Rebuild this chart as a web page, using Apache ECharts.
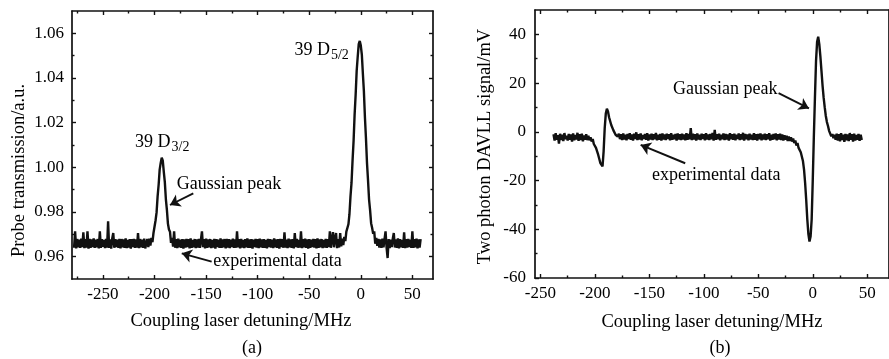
<!DOCTYPE html>
<html><head><meta charset="utf-8">
<script src="https://cdn.jsdelivr.net/npm/echarts@6/dist/echarts.min.js"></script>
<style>html,body{margin:0;padding:0;background:#fff}#c{width:889px;height:359px}</style>
</head><body><div id="c"></div>
<script>
// ---------- data ----------
// (a) probe transmission, one sample per MHz starting at leftStart
const leftStart = -278;
const leftTransmission = [
0.9640,0.9713,0.9637,0.9679,0.9642,0.9676,0.9639,0.9681,0.9643,0.9709,
0.9638,0.9678,0.9641,0.9713,0.9636,0.9680,0.9640,0.9677,0.9643,0.9682,
0.9639,0.9676,0.9642,0.9679,0.9637,0.9713,0.9640,0.9678,0.9644,0.9675,
0.9638,0.9680,0.9641,0.9758,0.9639,0.9677,0.9636,0.9681,0.9706,0.9640,
0.9678,0.9643,0.9676,0.9639,0.9680,0.9637,0.9679,0.9642,0.9677,0.9640,
0.9682,0.9638,0.9675,0.9641,0.9679,0.9636,0.9678,0.9643,0.9680,0.9639,
0.9677,0.9641,0.9706,0.9638,0.9679,0.9642,0.9676,0.9640,0.9681,0.9637,
0.9641,0.9679,0.9643,0.9681,0.9650,0.9684,0.9665,0.9706,0.9710,0.9762,
0.9798,0.9870,0.9922,0.9990,1.0020,1.0043,1.0030,0.9980,0.9934,0.9858,
0.9810,0.9748,0.9722,0.9712,0.9662,0.9684,0.9645,0.9713,0.9640,0.9678,
0.9638,0.9681,0.9642,0.9676,0.9639,0.9679,0.9636,0.9677,0.9641,0.9680,
0.9643,0.9678,0.9637,0.9682,0.9640,0.9675,0.9642,0.9679,0.9638,0.9677,
0.9641,0.9680,0.9639,0.9676,0.9713,0.9643,0.9678,0.9637,0.9681,0.9640,
0.9677,0.9642,0.9679,0.9638,0.9675,0.9641,0.9680,0.9636,0.9678,0.9643,
0.9676,0.9639,0.9682,0.9640,0.9677,0.9642,0.9679,0.9637,0.9680,0.9641,
0.9678,0.9638,0.9676,0.9643,0.9681,0.9639,0.9677,0.9640,0.9713,0.9642,
0.9679,0.9637,0.9680,0.9641,0.9675,0.9638,0.9678,0.9642,0.9682,0.9639,
0.9677,0.9640,0.9679,0.9636,0.9676,0.9643,0.9680,0.9641,0.9678,0.9638,
0.9681,0.9642,0.9677,0.9639,0.9679,0.9640,0.9675,0.9637,0.9680,0.9643,
0.9678,0.9641,0.9676,0.9638,0.9682,0.9642,0.9677,0.9639,0.9679,0.9636,
0.9680,0.9643,0.9678,0.9640,0.9709,0.9641,0.9676,0.9638,0.9681,0.9642,
0.9677,0.9639,0.9679,0.9637,0.9706,0.9643,0.9680,0.9640,0.9675,0.9641,
0.9713,0.9638,0.9678,0.9642,0.9681,0.9639,0.9677,0.9636,0.9679,0.9640,
0.9676,0.9643,0.9680,0.9641,0.9678,0.9637,0.9682,0.9640,0.9677,0.9642,
0.9679,0.9638,0.9675,0.9641,0.9680,0.9639,0.9678,0.9643,0.9713,0.9640,
0.9677,0.9710,0.9642,0.9681,0.9706,0.9638,0.9679,0.9641,0.9706,0.9646,
0.9681,0.9652,0.9688,0.9670,0.9712,0.9710,0.9745,0.9790,0.9870,0.9930,
1.0030,1.0118,1.0236,1.0325,1.0432,1.0495,1.0552,1.0566,1.0545,1.0505,
1.0420,1.0340,1.0224,1.0130,1.0020,0.9942,0.9856,0.9808,0.9750,0.9728,
0.9702,0.9713,0.9658,0.9684,0.9648,0.9680,0.9641,0.9677,0.9639,0.9681,
0.9642,0.9678,0.9713,0.9640,0.9594,0.9679,0.9638,0.9676,0.9643,0.9680,
0.9706,0.9641,0.9677,0.9639,0.9682,0.9637,0.9678,0.9642,0.9675,0.9640,
0.9709,0.9638,0.9679,0.9641,0.9680,0.9643,0.9676,0.9639,0.9713,0.9640,
0.9678,0.9642,0.9681,0.9637,0.9677,0.9641,0.9679
];
// (b) two photon DAVLL signal (mV), one sample per MHz starting at rightStart
const rightStart = -238;
const rightSignal = [
-1.0,-3.6,-0.6,-3.2,-1.4,-4.8,-0.8,-3.4,-1.2,-3.8,
-0.5,-3.0,-1.6,-3.6,-0.9,-3.3,-1.1,-4.0,-0.7,-3.5,
-1.3,-3.1,-0.4,-3.7,-1.0,-3.4,-0.8,-3.9,-1.5,-3.2,
-1.0,-3.4,-1.6,-3.5,-2.2,-4.0,-3.0,-5.0,-4.4,-6.6,
-7.0,-9.4,-10.0,-12.8,-13.5,-14.2,-8.0,1.5,7.5,9.5,
8.4,6.0,5.2,2.8,2.4,0.6,0.8,-1.2,-0.4,-2.0,
-0.8,-3.0,-1.0,-3.4,-0.7,-3.1,-1.2,-3.5,-0.9,-2.9,
-0.6,-3.3,-1.1,-3.6,-0.8,-3.0,-0.2,-3.4,-1.0,-3.2,
-0.7,-3.5,-1.3,-2.9,-0.9,-3.3,-0.6,-3.6,-1.1,-3.1,
-0.8,-3.4,-1.0,-3.0,-0.5,-3.5,-1.2,-3.2,-0.9,-3.6,
-0.7,-3.1,-1.1,-3.4,-0.8,-2.9,-1.0,-3.5,-0.6,-3.3,
-1.2,-3.0,-0.9,-3.6,-0.7,-3.2,-1.0,-3.4,-0.8,-3.1,
-1.1,-3.5,-0.6,-3.3,-0.9,-3.0,1.5,-3.4,-0.8,-3.2,
-1.0,-3.6,-0.7,-3.1,-1.2,-3.4,-0.8,-2.9,-1.0,-3.5,
-0.6,-3.2,-1.1,-3.4,-0.9,-3.0,-0.5,-3.6,0.8,-3.3,
-1.0,-3.1,-0.8,-3.5,-1.2,-3.0,-0.7,-3.4,-0.9,-3.2,
-1.1,-3.6,-0.6,-3.1,-1.0,-3.3,-0.8,-3.5,-1.2,-2.9,
-0.7,-3.4,-1.0,-3.2,-0.4,-3.6,-0.9,-3.0,-1.1,-3.5,
-0.8,-3.1,-1.2,-3.4,-0.6,-3.3,-1.0,-3.6,-0.9,-3.0,
-0.7,-3.5,-1.1,-3.2,-0.8,-3.4,-1.0,-3.1,-0.6,-3.6,
-1.2,-3.3,-0.9,-3.0,-0.7,-3.5,-1.0,-3.2,-0.8,-3.4,
-1.1,-3.6,-1.4,-3.2,-1.6,-3.8,-1.9,-3.7,-2.2,-4.0,
-2.8,-4.6,-3.6,-5.6,-4.6,-6.6,-6.2,-8.4,-9.2,-12.0,
-15.5,-21,-28,-36,-42,-45,-43,-36,-20,-2,
14,29,37,39,36,31,25,19,14,10,
6.5,4.0,2.4,0.4,-0.2,-1.8,-0.9,-2.6,-1.2,-3.3,
-0.8,-3.6,-1.0,-3.9,-0.6,-3.4,-1.2,-4.1,-0.9,-3.5,
-1.1,-3.8,-0.5,-3.3,-1.0,-4.0,-0.8,-3.6,-1.3,-3.2,
-0.9,-3.7,-1.2,-3.4
];
// axis ranges and ticks
const leftXRange = [-280, 70];
const leftYRange = [0.95, 1.07];
const leftXLabels = [-250, -200, -150, -100, -50, 0, 50];
const leftXMinor = [-275, -225, -175, -125, -75, -25, 25];
const leftYLabels = [0.96, 0.98, 1.00, 1.02, 1.04, 1.06];
const leftYMinor = [0.97, 0.99, 1.01, 1.03, 1.05];
const rightXRange = [-255, 70];
const rightYRange = [-60, 50];
const rightXLabels = [-250, -200, -150, -100, -50, 0, 50];
const rightXMinor = [-225, -175, -125, -75, -25, 25];
const rightYLabels = [-60, -40, -20, 0, 20, 40];
const rightYMinor = [-50, -30, -10, 10, 30];
// annotations in data coordinates
const leftAnnot = {
  d32: [-184.5, 1.0111], d52: [-29.9, 1.0526],
  gauss: [-178.5, 0.9925], exper: [-143.0, 0.9581],
  arrowGauss: [[-162.4, 0.98838], [-185.0, 0.98314]],
  arrowExper: [[-144.6, 0.95775], [-173.6, 0.96151]]
};
const rightAnnot = {
  gauss: [-32.3, 17.6], exper: [-147.5, -17.7],
  arrowGauss: [[-31.4, 15.9], [-3.5, 9.6]],
  arrowExper: [[-117.1, -12.9], [-158.0, -5.4]]
};

// ---------- chart ----------
const FONT = 'Liberation Serif';
const INK = '#111';
function toPairs(start, arr) { return arr.map((v, i) => [start + i, v]); }

function xAxes(grid, range, labels, minor, fmt) {
  const base = { type: 'value', gridIndex: grid, min: range[0], max: range[1], splitLine: { show: false } };
  const line = { show: true, onZero: false, lineStyle: { color: INK, width: 1.7 } };
  return [
    Object.assign({}, base, { position: 'bottom', axisLine: line,
      axisTick: { show: true, inside: true, length: 4, customValues: labels, lineStyle: { color: INK, width: 1.4 } },
      axisLabel: { show: true, customValues: labels, formatter: fmt, margin: 7, color: '#000', fontFamily: FONT, fontSize: 17 } }),
    Object.assign({}, base, { position: 'bottom', axisLine: { show: false, onZero: false },
      axisTick: { show: true, inside: true, length: 2.5, customValues: minor, lineStyle: { color: INK, width: 1.4 } },
      axisLabel: { show: false } }),
    Object.assign({}, base, { position: 'top', axisLine: line,
      axisTick: { show: true, inside: true, length: 4, customValues: labels, lineStyle: { color: INK, width: 1.4 } },
      axisLabel: { show: false } }),
    Object.assign({}, base, { position: 'top', axisLine: { show: false, onZero: false },
      axisTick: { show: true, inside: true, length: 2.5, customValues: minor, lineStyle: { color: INK, width: 1.4 } },
      axisLabel: { show: false } })
  ];
}
function yAxes(grid, range, labels, minor, fmt, margin, rightTicks) {
  const base = { type: 'value', gridIndex: grid, min: range[0], max: range[1], splitLine: { show: false } };
  const line = { show: true, onZero: false, lineStyle: { color: INK, width: 1.7 } };
  return [
    Object.assign({}, base, { position: 'left', axisLine: line,
      axisTick: { show: true, inside: true, length: 4, customValues: labels, lineStyle: { color: INK, width: 1.4 } },
      axisLabel: { show: true, customValues: labels, formatter: fmt, margin: margin, color: '#000', fontFamily: FONT, fontSize: 17 } }),
    Object.assign({}, base, { position: 'left', axisLine: { show: false, onZero: false },
      axisTick: { show: true, inside: true, length: 2.5, customValues: minor, lineStyle: { color: INK, width: 1.4 } },
      axisLabel: { show: false } }),
    Object.assign({}, base, { position: 'right', axisLine: line,
      axisTick: { show: rightTicks, inside: true, length: 4, customValues: labels, lineStyle: { color: INK, width: 1.4 } },
      axisLabel: { show: false } }),
    Object.assign({}, base, { position: 'right', axisLine: { show: false, onZero: false },
      axisTick: { show: rightTicks, inside: true, length: 2.5, customValues: minor, lineStyle: { color: INK, width: 1.4 } },
      axisLabel: { show: false } })
  ];
}
function arrowLine(pair) {
  return [{ coord: pair[0], symbol: 'none' }, { coord: pair[1], symbol: 'arrow', symbolSize: 10 }];
}
const intFmt = v => String(Math.round(v));
const twoFmt = v => v.toFixed(2);

const chart = echarts.init(document.getElementById('c'), null, { renderer: 'canvas' });
const option = {
  animation: false,
  backgroundColor: '#fff',
  grid: [
    { left: 72, right: 456, top: 11, bottom: 80 },
    { left: 535, right: -3.5, top: 10, bottom: 81 }
  ],
  xAxis: [].concat(
    xAxes(0, leftXRange, leftXLabels, leftXMinor, intFmt),
    xAxes(1, rightXRange, rightXLabels, rightXMinor, intFmt)),
  yAxis: [].concat(
    yAxes(0, leftYRange, leftYLabels, leftYMinor, twoFmt, 8, true),
    yAxes(1, rightYRange, rightYLabels, rightYMinor, intFmt, 9, false)),
  series: [
    { type: 'line', xAxisIndex: 0, yAxisIndex: 0, data: toPairs(leftStart, leftTransmission),
      showSymbol: false, lineStyle: { color: INK, width: 2.4 }, silent: true,
      markLine: { silent: true, label: { show: false }, lineStyle: { color: INK, width: 1.9, type: 'solid' },
        data: [arrowLine(leftAnnot.arrowGauss), arrowLine(leftAnnot.arrowExper)] } },
    { type: 'line', xAxisIndex: 4, yAxisIndex: 4, data: toPairs(rightStart, rightSignal),
      showSymbol: false, lineStyle: { color: INK, width: 2.4 }, silent: true,
      markLine: { silent: true, label: { show: false }, lineStyle: { color: INK, width: 1.9, type: 'solid' },
        data: [arrowLine(rightAnnot.arrowGauss), arrowLine(rightAnnot.arrowExper)] } }
  ]
};
chart.setOption(option);

function P(xi, pt) { return chart.convertToPixel({ xAxisIndex: xi, yAxisIndex: xi }, pt); }
function txt(text, x, y, size, align, rot) {
  return { type: 'text', x: x, y: y, rotation: rot || 0, silent: true,
    style: { text: text, font: size + 'px "' + FONT + '"', fill: '#000',
      textAlign: align || 'center', textVerticalAlign: 'middle', align: align || 'center', verticalAlign: 'middle' } };
}
const g = [];
const a1 = P(0, leftAnnot.d32), a2 = P(0, leftAnnot.d52);
g.push(txt('39 D', a1[0], a1[1], 18, 'right'));
g.push(txt('3/2', a1[0] + 1, a1[1] + 5, 14, 'left'));
g.push(txt('39 D', a2[0], a2[1], 18, 'right'));
g.push(txt('5/2', a2[0] + 1, a2[1] + 5, 14, 'left'));
const a3 = P(0, leftAnnot.gauss), a4 = P(0, leftAnnot.exper);
g.push(txt('Gaussian peak', a3[0], a3[1], 18, 'left'));
g.push(txt('experimental data', a4[0], a4[1], 18, 'left'));
const b1 = P(4, rightAnnot.gauss), b2 = P(4, rightAnnot.exper);
g.push(txt('Gaussian peak', b1[0], b1[1], 18, 'right'));
g.push(txt('experimental data', b2[0], b2[1], 18, 'left'));
// axis titles and panel labels
g.push(txt('Coupling laser detuning/MHz', 241, 321, 18.5, 'center'));
g.push(txt('Coupling laser detuning/MHz', 712, 322, 18.5, 'center'));
g.push(txt('(a)', 252, 348, 18, 'center'));
g.push(txt('(b)', 720, 348, 18, 'center'));
g.push(txt('Probe transmission/a.u.', 19, 170.5, 18.5, 'center', Math.PI / 2));
g.push(txt('Two photon DAVLL signal/mV', 485, 146.5, 18.5, 'center', Math.PI / 2));
chart.setOption({ graphic: { elements: g } });
</script>
</body></html>
